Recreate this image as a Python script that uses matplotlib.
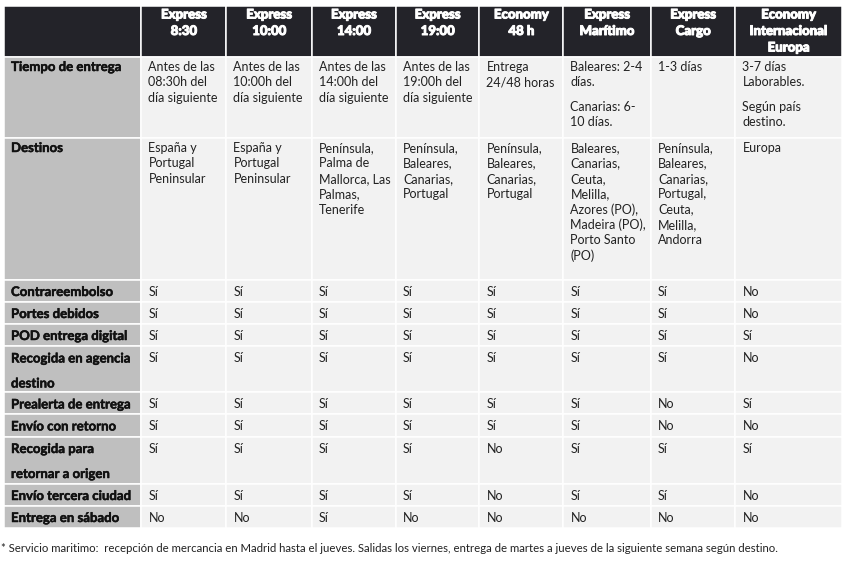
import matplotlib.pyplot as plt
import matplotlib.patheffects as pe
from matplotlib.patches import Rectangle

plt.rcParams['font.family'] = ['Lato', 'DejaVu Sans']

services = ['Express\n8:30', 'Express\n10:00', 'Express\n14:00', 'Express\n19:00',
            'Economy\n48 h', 'Express\nMarítimo', 'Express\nCargo',
            'Economy\nInternacional\nEuropa']

features = ['Tiempo de entrega', 'Destinos', 'Contrareembolso', 'Portes debidos',
            'POD entrega digital', 'Recogida en agencia\ndestino',
            'Prealerta de entrega', 'Envío con retorno',
            'Recogida para\nretornar a origen', 'Envío tercera ciudad',
            'Entrega en sábado']

tiempo = ['Antes de las\n08:30h del\ndía siguiente',
          'Antes de las\n10:00h del\ndía siguiente',
          'Antes de las\n14:00h del\ndía siguiente',
          'Antes de las\n19:00h del\ndía siguiente',
          'Entrega\n24/48 horas',
          'Baleares: 2-4\ndías.\n\nCanarias: 6-\n10 días.',
          '1-3 días',
          '3-7 días\nLaborables.\n\nSegún país\ndestino.']

destinos = ['España y\nPortugal\nPeninsular',
            'España y\nPortugal\nPeninsular',
            'Península,\nPalma de\nMallorca, Las\nPalmas,\nTenerife',
            'Península,\nBaleares,\nCanarias,\nPortugal',
            'Península,\nBaleares,\nCanarias,\nPortugal',
            'Baleares,\nCanarias,\nCeuta,\nMelilla,\nAzores (PO),\nMadeira (PO),\nPorto Santo\n(PO)',
            'Península,\nBaleares,\nCanarias,\nPortugal,\nCeuta,\nMelilla,\nAndorra',
            'Europa']

contrareembolso = ['Sí', 'Sí', 'Sí', 'Sí', 'Sí', 'Sí', 'Sí', 'No']
portes_debidos = ['Sí', 'Sí', 'Sí', 'Sí', 'Sí', 'Sí', 'Sí', 'No']
pod_digital = ['Sí', 'Sí', 'Sí', 'Sí', 'Sí', 'Sí', 'Sí', 'Sí']
recogida_agencia = ['Sí', 'Sí', 'Sí', 'Sí', 'Sí', 'Sí', 'Sí', 'No']
prealerta = ['Sí', 'Sí', 'Sí', 'Sí', 'Sí', 'Sí', 'No', 'Sí']
envio_retorno = ['Sí', 'Sí', 'Sí', 'Sí', 'Sí', 'Sí', 'No', 'No']
recogida_origen = ['Sí', 'Sí', 'Sí', 'Sí', 'No', 'Sí', 'Sí', 'Sí']
tercera_ciudad = ['Sí', 'Sí', 'Sí', 'Sí', 'No', 'Sí', 'Sí', 'No']
sabado = ['No', 'No', 'Sí', 'No', 'No', 'No', 'No', 'No']

rows = [tiempo, destinos, contrareembolso, portes_debidos, pod_digital,
        recogida_agencia, prealerta, envio_retorno, recogida_origen,
        tercera_ciudad, sabado]

footnote = ('* Servicio maritimo:  recepción de mercancia en Madrid hasta el jueves. '
            'Salidas los viernes, entrega de martes a jueves de la siguiente semana según destino.')

# layout (pixels)
col_edges = [4, 141.5, 226.5, 312, 396, 479.5, 563.5, 651, 735.5, 842]
row_edges = [6, 57, 138, 279.5, 301.5, 323.5, 346, 392, 414, 436.5, 483.5, 505.5, 527.5]

dark = '#232329'
grey = '#bfbfbf'
light = '#f2f2f2'

fig = plt.figure(figsize=(8.45, 5.62), dpi=100)
ax = fig.add_axes([0, 0, 1, 1])
ax.set_xlim(0, 845)
ax.set_ylim(562, 0)
ax.axis('off')


def cell(x0, x1, y0, y1, color):
    ax.add_patch(Rectangle((x0, y0), x1 - x0, y1 - y0, facecolor=color,
                           edgecolor='white', linewidth=1.1))


def lines_at(text, x, y, lh, blank=0.6, **kw):
    yy = y
    for ln in text.split('\n'):
        if ln == '':
            yy += lh * blank
            continue
        ax.text(x, yy, ln, va='center', **kw)
        yy += lh


# header
for c in range(len(col_edges) - 1):
    cell(col_edges[c], col_edges[c + 1], row_edges[0], row_edges[1], dark)
heavy = [pe.withStroke(linewidth=0.7, foreground='white')]
for c, name in enumerate(services):
    xc = (col_edges[c + 1] + col_edges[c + 2]) / 2
    lines_at(name, xc, 14.5, 16.5, ha='center', color='white',
             fontsize=9.5, fontweight='black', path_effects=heavy)

# body
label_fx = [pe.withStroke(linewidth=0.35, foreground='#111111')]
for r, vals in enumerate(rows):
    y0, y1 = row_edges[r + 1], row_edges[r + 2]
    pad = 10 if r < 2 else 12.5
    cell(col_edges[0], col_edges[1], y0, y1, grey)
    lines_at(features[r], 11, y0 + pad, 25, ha='left', color='#111111',
             fontsize=9.5, fontweight='bold', path_effects=label_fx)
    for c, v in enumerate(vals):
        cell(col_edges[c + 1], col_edges[c + 2], y0, y1, light)
        lines_at(v, col_edges[c + 1] + 7, y0 + pad, 15.4, ha='left',
                 color='#222222', fontsize=9)

ax.text(1, 549, footnote, ha='left', va='center', fontsize=8.2, color='#222222')

fig.savefig('out.png', dpi=100)
